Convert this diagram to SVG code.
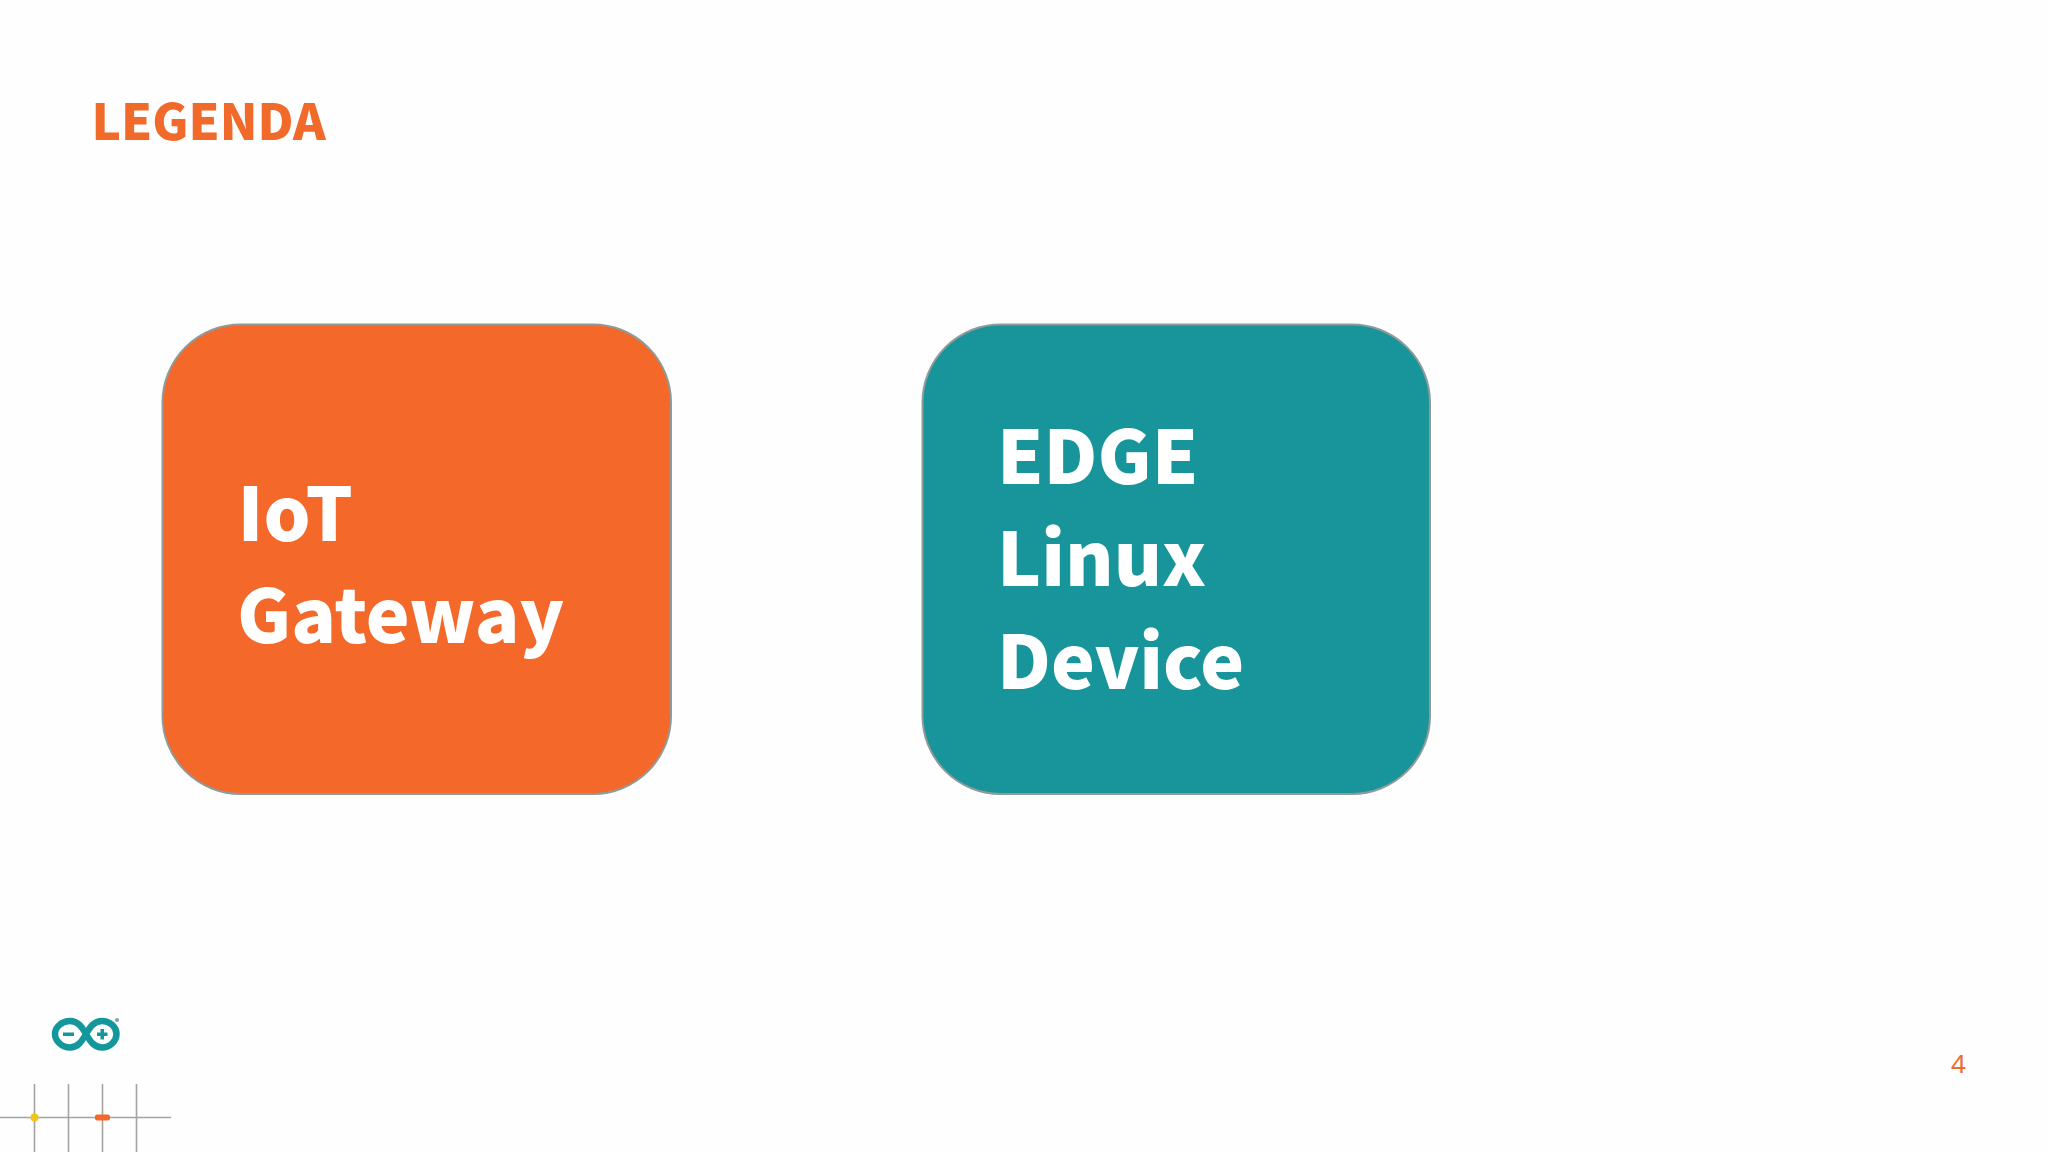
<svg xmlns="http://www.w3.org/2000/svg" width="2048" height="1152" viewBox="0 0 2048 1152">
<style>
.t{font-family:"Noto Sans CJK SC","Noto Sans",sans-serif;font-weight:900}
.w{fill:#fff;font-size:74px}
.box{stroke:#8f9a9a;stroke-width:2}
.g{stroke:#a3a3a3;stroke-width:1.6;fill:none}
</style>
<rect width="2048" height="1152" fill="#fefefe"/>
<text class="t" x="91.500" y="140" font-size="49.500" fill="#f26a2a">LEGENDA</text>
<g id="iot-gateway">
<rect class="box" x="162.500" y="324.500" width="508.500" height="469.500" rx="78" ry="78" fill="#f4692a"/>
<text class="t w" x="237.500" y="541">IoT</text>
<text class="t w" x="237" y="643">Gateway</text>
</g>
<g id="edge-linux-device">
<rect class="box" x="922.500" y="324.500" width="507.500" height="469.500" rx="78" ry="78" fill="#17959a"/>
<text class="t w" x="997" y="484">EDGE</text>
<text class="t w" x="997" y="586">Linux</text>
<text class="t w" x="997" y="689">Device</text>
</g>
<g id="logo">
<path d="M70 1021C62 1021 55 1027 55 1034C55 1041 62 1047.500 70 1047.500C78 1047.500 82 1041 86 1034C90 1027 94 1021 102 1021C110 1021 116.500 1027 116.500 1034C116.500 1041 110 1047.500 102 1047.500C94 1047.500 90 1041 86 1034C82 1027 78 1021 70 1021Z" fill="none" stroke="#14979c" stroke-width="6.500"/>
<rect x="63" y="1032.500" width="11" height="3.500" fill="#14979c"/>
<rect x="97" y="1032.500" width="10.500" height="3.500" fill="#14979c"/>
<rect x="100.500" y="1029" width="3.500" height="10.500" fill="#14979c"/>
<circle cx="117" cy="1020" r="2" fill="#7fa5a7"/>
</g>
<g id="decor">
<path class="g" d="M0 1117.500H171M34.500 1084V1152M68.500 1084V1152M102.500 1084V1152M136.500 1084V1152"/>
<circle cx="34.500" cy="1117.500" r="4" fill="#f0c419"/>
<rect x="95" y="1114.500" width="15" height="6" rx="2" fill="#f26a2a"/>
</g>
<text x="1951" y="1073" font-family="'Noto Sans',sans-serif" font-size="26" fill="#ef6c30">4</text>
</svg>
